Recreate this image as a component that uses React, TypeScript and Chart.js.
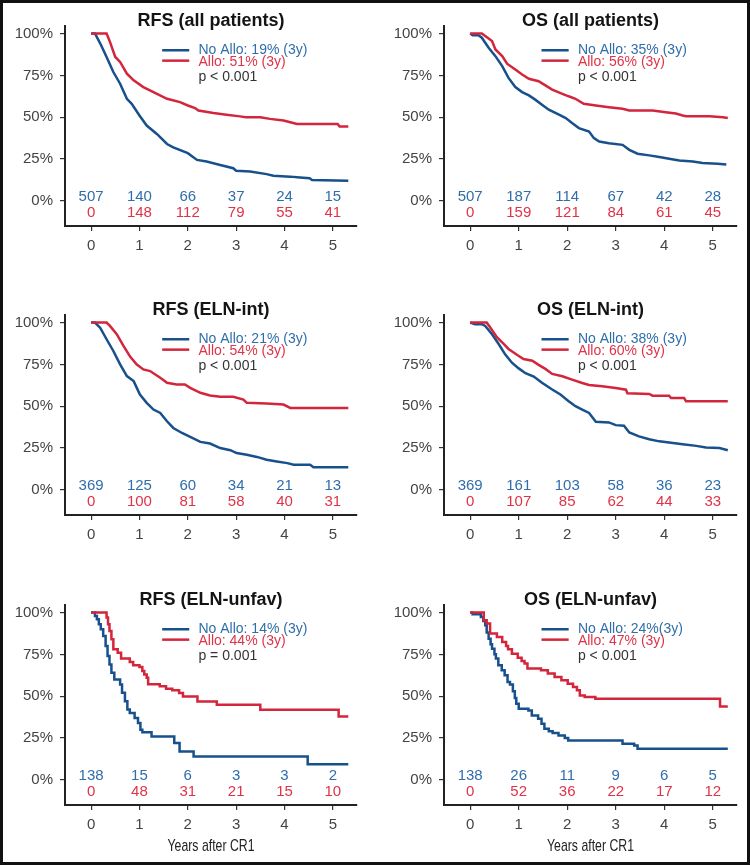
import React, { useEffect, useRef } from "react";
import { Chart, registerables } from "chart.js";

Chart.register(...registerables);

type Pt = [number, number];

// ---------- tick labels ----------
const yearTicks = [0, 1, 2, 3, 4, 5];
const percentTicks = [0, 25, 50, 75, 100];
const xAxisTitle = "Years after CR1";

// ---------- panel titles & legend texts ----------
const titles = [
  "RFS (all patients)",
  "OS (all patients)",
  "RFS (ELN-int)",
  "OS (ELN-int)",
  "RFS (ELN-unfav)",
  "OS (ELN-unfav)",
];
const noAlloLabels = [
  "No Allo: 19% (3y)",
  "No Allo: 35% (3y)",
  "No Allo: 21% (3y)",
  "No Allo: 38% (3y)",
  "No Allo: 14% (3y)",
  "No Allo: 24%(3y)",
];
const alloLabels = [
  "Allo: 51% (3y)",
  "Allo: 56% (3y)",
  "Allo: 54% (3y)",
  "Allo: 60% (3y)",
  "Allo: 44% (3y)",
  "Allo: 47% (3y)",
];
const pLabels = ["p < 0.001", "p < 0.001", "p < 0.001", "p < 0.001", "p = 0.001", "p < 0.001"];

// ---------- numbers at risk ----------
const riskNoAllo = [
  [507, 140, 66, 37, 24, 15],
  [507, 187, 114, 67, 42, 28],
  [369, 125, 60, 34, 21, 13],
  [369, 161, 103, 58, 36, 23],
  [138, 15, 6, 3, 3, 2],
  [138, 26, 11, 9, 6, 5],
];
const riskAllo = [
  [0, 148, 112, 79, 55, 41],
  [0, 159, 121, 84, 61, 45],
  [0, 100, 81, 58, 40, 31],
  [0, 107, 85, 62, 44, 33],
  [0, 48, 31, 21, 15, 10],
  [0, 52, 36, 22, 17, 12],
];

// ---------- survival curves (years, %) ----------
const rfsAllNoAllo: Pt[] = [
  [0, 100], [0.08, 100], [0.19, 94], [0.32, 86], [0.46, 77], [0.6, 70], [0.74, 61], [0.84, 58],
  [1.0, 51], [1.15, 45], [1.36, 40], [1.57, 34], [1.7, 32], [2.0, 28.5], [2.19, 24.5], [2.39, 23.5],
  [2.67, 21.5], [2.94, 19.5], [3.0, 18], [3.29, 17.5], [3.63, 16], [3.77, 15], [4.12, 14.5],
  [4.32, 14], [4.52, 13.5], [4.57, 12.5], [5.32, 12],
];
const rfsAllAllo: Pt[] = [
  [0, 100], [0.32, 100], [0.39, 95], [0.5, 86], [0.6, 83], [0.74, 76], [0.88, 72], [1.08, 68],
  [1.29, 65], [1.57, 61], [1.84, 59], [2.0, 57], [2.15, 55.5], [2.22, 54], [2.53, 52.5], [2.8, 51.5],
  [3.08, 50.5], [3.2, 50], [3.5, 50], [3.7, 49], [3.98, 48], [4.12, 47], [4.26, 46], [5.1, 46],
  [5.14, 44.5], [5.32, 44.5],
];
const osAllNoAllo: Pt[] = [
  [0, 100], [0.05, 99], [0.17, 99], [0.24, 97.5], [0.38, 91.5], [0.52, 86.5], [0.66, 80.5],
  [0.79, 73.5], [0.93, 68], [1.07, 65], [1.21, 63], [1.34, 60.5], [1.48, 57.5], [1.62, 54.5],
  [1.83, 51.5], [1.97, 49.5], [2.1, 46.5], [2.24, 43.5], [2.45, 41.5], [2.55, 37.5], [2.66, 35.5],
  [2.86, 34.5], [3.14, 33.5], [3.28, 30.5], [3.45, 28.2], [3.69, 27.2], [3.9, 26.2], [4.1, 25.2],
  [4.31, 24.2], [4.59, 23.6], [4.79, 22.6], [5.1, 22.2], [5.28, 21.8],
];
const osAllAllo: Pt[] = [
  [0, 100], [0.24, 100], [0.31, 98.5], [0.45, 95.5], [0.52, 90.5], [0.66, 86.5], [0.76, 82],
  [0.93, 78.5], [1.07, 75.5], [1.21, 73], [1.41, 71.5], [1.55, 69], [1.69, 66.5], [1.9, 64],
  [2.03, 62.5], [2.17, 61], [2.34, 58], [2.59, 57], [2.86, 56], [3.14, 55], [3.28, 54], [3.76, 54],
  [4.03, 53], [4.24, 52.2], [4.38, 51], [4.45, 50.6], [4.93, 50.6], [5.21, 50], [5.31, 49.5],
];
const rfsIntNoAllo: Pt[] = [
  [0, 100], [0.08, 100], [0.19, 96.8], [0.32, 90], [0.46, 83], [0.6, 75], [0.74, 68], [0.88, 65],
  [1.01, 57], [1.15, 52], [1.29, 48], [1.43, 46], [1.57, 41], [1.7, 37], [1.88, 34], [2.05, 31.7],
  [2.26, 28.7], [2.46, 27.7], [2.67, 25], [2.88, 23.7], [3.01, 22], [3.22, 21], [3.43, 19.7],
  [3.63, 18], [3.84, 17], [4.06, 16], [4.19, 15], [4.53, 15], [4.6, 13.5], [5.32, 13.5],
];
const rfsIntAllo: Pt[] = [
  [0, 100], [0.32, 100], [0.39, 98], [0.53, 93], [0.67, 86], [0.81, 79.5], [0.94, 75], [1.08, 72],
  [1.22, 71], [1.43, 67], [1.57, 64], [1.77, 63], [1.94, 63], [2.05, 61], [2.26, 58], [2.46, 56.4],
  [2.67, 55.6], [2.94, 55.6], [3.15, 54], [3.22, 52], [3.63, 51.6], [3.98, 51], [4.12, 49], [5.32, 49],
];
const osIntNoAllo: Pt[] = [
  [0, 100], [0.1, 99], [0.24, 99], [0.31, 98], [0.45, 93], [0.59, 87], [0.72, 81], [0.86, 76],
  [1.0, 72.6], [1.14, 69.7], [1.31, 67.7], [1.48, 64], [1.69, 60], [1.86, 57], [2.03, 53],
  [2.17, 50], [2.31, 48], [2.45, 46], [2.59, 40.7], [2.86, 40.3], [3.0, 38.7], [3.17, 38.3],
  [3.28, 34.3], [3.48, 32], [3.69, 30.3], [3.9, 29], [4.1, 28.3], [4.38, 27.3], [4.66, 26.3],
  [4.86, 25.3], [5.14, 25], [5.31, 23.7],
];
const osIntAllo: Pt[] = [
  [0, 100], [0.34, 100], [0.41, 97.2], [0.55, 91.2], [0.69, 87.2], [0.79, 84.2], [0.97, 80.6],
  [1.1, 78.2], [1.28, 77.2], [1.41, 74.7], [1.55, 72.3], [1.69, 69.3], [1.9, 67.9], [2.1, 65.9],
  [2.31, 63.9], [2.45, 62.7], [2.72, 61.9], [3.0, 60.9], [3.21, 59.9], [3.24, 57.7], [3.69, 57.3],
  [3.76, 56.3], [4.1, 56.3], [4.14, 54.9], [4.41, 54.9], [4.45, 52.9], [5.31, 52.9],
];
// step curves: each point = (event time, value after the event)
const rfsUnfavNoAllo: Pt[] = [
  [0, 100], [0.08, 98], [0.12, 96], [0.16, 93], [0.2, 90], [0.25, 86], [0.3, 80], [0.34, 74],
  [0.38, 69], [0.42, 64], [0.48, 60], [0.6, 57], [0.64, 52], [0.7, 47], [0.75, 42], [0.8, 40],
  [0.9, 37], [0.97, 34], [1.02, 30], [1.06, 28.5], [1.25, 26], [1.72, 22], [1.83, 17], [2.12, 14],
  [4.48, 9.4], [5.32, 9.4],
];
const rfsUnfavAllo: Pt[] = [
  [0, 100], [0.32, 97], [0.35, 93], [0.38, 89], [0.42, 84], [0.46, 78], [0.55, 76], [0.62, 72.5],
  [0.8, 70.5], [0.87, 68.5], [1.0, 67.5], [1.06, 65], [1.1, 63], [1.15, 61], [1.18, 57.1],
  [1.42, 55.9], [1.55, 54.5], [1.68, 53.5], [1.82, 51.9], [1.9, 49.9], [2.2, 46.9], [2.6, 44.9],
  [3.5, 41.9], [5.12, 37.9], [5.32, 37.9],
];
const osUnfavNoAllo: Pt[] = [
  [0, 100], [0.05, 99], [0.22, 97.4], [0.27, 95], [0.31, 92.4], [0.34, 88], [0.38, 84.4],
  [0.42, 81], [0.45, 78.4], [0.5, 75], [0.53, 72.5], [0.58, 68.5], [0.65, 65.5], [0.71, 62.5],
  [0.77, 58.5], [0.82, 57], [0.88, 53], [0.92, 49], [0.95, 45.5], [1.0, 42.5], [1.2, 41.5],
  [1.27, 38.5], [1.4, 36.5], [1.47, 33.5], [1.53, 30.5], [1.62, 29], [1.7, 28], [1.82, 26.5],
  [1.95, 25], [2.02, 23.6], [3.14, 21.6], [3.38, 20.6], [3.45, 18.6], [5.31, 18.6],
];
const osUnfavAllo: Pt[] = [
  [0, 100], [0.28, 95.4], [0.34, 93.4], [0.41, 87.4], [0.55, 85.4], [0.66, 82.4], [0.74, 80],
  [0.78, 78], [0.86, 75.4], [0.98, 73], [1.06, 71], [1.12, 69.5], [1.18, 66.5], [1.46, 65.5],
  [1.6, 63.5], [1.74, 61.5], [1.88, 59.5], [2.01, 57.5], [2.12, 55.5], [2.2, 53.5], [2.26, 50.5],
  [2.36, 49.5], [2.58, 48.5], [5.15, 43.9], [5.31, 43.9],
];

const noAlloCurves = [rfsAllNoAllo, osAllNoAllo, rfsIntNoAllo, osIntNoAllo, rfsUnfavNoAllo, osUnfavNoAllo];
const alloCurves = [rfsAllAllo, osAllAllo, rfsIntAllo, osIntAllo, rfsUnfavAllo, osUnfavAllo];
const steppedPanels = [false, false, false, false, true, true];

// ---------- styles ----------
const FONT = "'Liberation Sans', Arial, Helvetica, sans-serif";
const LINE_BLUE = "#17508b";
const LINE_RED = "#d3253b";
const TEXT_BLUE = "#2f6eab";
const TEXT_RED = "#df3349";
const TICK_COLOR = "#444444";
const AXIS_COLOR = "#222222";

const ROW_TOPS = [26, 315, 605];
const COL_LEFT = [0, 375];
const CANVAS_W = 375;
const CANVAS_H = 286;

function Panel({ index }: { index: number }) {
  const ref = useRef<HTMLCanvasElement>(null);
  const col = index % 2;
  const row = Math.floor(index / 2);

  useEffect(() => {
    const canvas = ref.current;
    if (!canvas) return;
    const padLeft = col === 0 ? 15 : 19;
    const padRight = col === 0 ? 18 : 13;
    // "before": horizontal to the event time, then vertical drop (Kaplan-Meier style)
    const stepped = steppedPanels[index] ? "before" : false;

    const overlay = {
      id: "kmOverlay" + index,
      afterDraw(chart: any) {
        const { ctx, chartArea } = chart;
        const x = chart.scales.x;
        const y = chart.scales.y;
        const cx = (chartArea.left + chartArea.right) / 2;
        ctx.save();
        ctx.textBaseline = "middle";

        // title
        ctx.font = `bold 18px ${FONT}`;
        ctx.fillStyle = "#141414";
        ctx.textAlign = "center";
        ctx.fillText(titles[index], cx, chartArea.top - 5);

        // legend
        const lx0 = x.getPixelForValue(1.47);
        const lx1 = x.getPixelForValue(2.03);
        const tx = x.getPixelForValue(2.22);
        const yb = y.getPixelForValue(90);
        const yr = y.getPixelForValue(83.8);
        const yp = y.getPixelForValue(73.8);
        ctx.lineWidth = 2.5;
        ctx.strokeStyle = LINE_BLUE;
        ctx.beginPath();
        ctx.moveTo(lx0, yb);
        ctx.lineTo(lx1, yb);
        ctx.stroke();
        ctx.strokeStyle = LINE_RED;
        ctx.beginPath();
        ctx.moveTo(lx0, yr);
        ctx.lineTo(lx1, yr);
        ctx.stroke();
        ctx.font = `14px ${FONT}`;
        ctx.textAlign = "left";
        ctx.fillStyle = TEXT_BLUE;
        ctx.fillText(noAlloLabels[index], tx, yb);
        ctx.fillStyle = TEXT_RED;
        ctx.fillText(alloLabels[index], tx, yr + 1);
        ctx.fillStyle = "#333333";
        ctx.fillText(pLabels[index], tx, yp);

        // numbers at risk
        ctx.font = `15px ${FONT}`;
        ctx.textAlign = "center";
        yearTicks.forEach((t, i) => {
          const px = x.getPixelForValue(t);
          ctx.fillStyle = TEXT_BLUE;
          ctx.fillText(String(riskNoAllo[index][i]), px, y.getPixelForValue(2.2));
          ctx.fillStyle = TEXT_RED;
          ctx.fillText(String(riskAllo[index][i]), px, y.getPixelForValue(-7.3));
        });

        // x axis title on bottom row
        if (row === 2) {
          ctx.font = `17px 'Liberation Sans Narrow', ${FONT}`;
          ctx.fillStyle = "#222222";
          ctx.fillText(xAxisTitle, cx, chartArea.bottom + 41, 87);
        }
        ctx.restore();
      },
    };

    const chart = new Chart(canvas, {
      type: "line",
      data: {
        datasets: [
          {
            label: "Allo",
            data: alloCurves[index].map(([t, s]) => ({ x: t, y: s })),
            borderColor: LINE_RED,
            borderWidth: 2.5,
            pointRadius: 0,
            tension: 0,
            stepped: stepped as any,
            fill: false,
          },
          {
            label: "No Allo",
            data: noAlloCurves[index].map(([t, s]) => ({ x: t, y: s })),
            borderColor: LINE_BLUE,
            borderWidth: 2.5,
            pointRadius: 0,
            tension: 0,
            stepped: stepped as any,
            fill: false,
          },
        ],
      },
      options: {
        responsive: false,
        animation: false,
        devicePixelRatio: 1,
        layout: { padding: { left: padLeft, right: padRight, top: 26, bottom: 20 } },
        plugins: {
          legend: { display: false },
          tooltip: { enabled: false },
          title: { display: false },
        },
        scales: {
          x: {
            type: "linear",
            min: -0.54,
            max: 5.5,
            afterBuildTicks: (s: any) => {
              s.ticks = yearTicks.map((v) => ({ value: v }));
            },
            afterFit: (s: any) => {
              s.height = 40;
            },
            grid: {
              display: true,
              drawOnChartArea: false,
              drawTicks: true,
              tickLength: 5,
              color: "#333333",
              lineWidth: 1.2,
            },
            border: { display: true, color: AXIS_COLOR, width: 2 },
            ticks: {
              padding: 6,
              color: TICK_COLOR,
              font: { family: FONT, size: 15 },
              maxRotation: 0,
              autoSkip: false,
              callback: (v: any) => String(v),
            },
          },
          y: {
            type: "linear",
            min: -15,
            max: 104.5,
            afterBuildTicks: (s: any) => {
              s.ticks = percentTicks.map((v) => ({ value: v }));
            },
            afterFit: (s: any) => {
              s.width = 50;
            },
            grid: {
              display: true,
              drawOnChartArea: false,
              drawTicks: true,
              tickLength: 5,
              color: "#333333",
              lineWidth: 1.2,
            },
            border: { display: true, color: AXIS_COLOR, width: 2 },
            ticks: {
              padding: 7,
              color: TICK_COLOR,
              font: { family: FONT, size: 15 },
              autoSkip: false,
              callback: (v: any) => `${v}%`,
            },
          },
        },
      } as any,
      plugins: [overlay],
    });
    return () => chart.destroy();
  }, [index]);

  return (
    <canvas
      ref={ref}
      width={CANVAS_W}
      height={CANVAS_H}
      style={{
        position: "absolute",
        left: COL_LEFT[col],
        top: ROW_TOPS[row] - 26,
        width: CANVAS_W,
        height: CANVAS_H,
      }}
    />
  );
}

export default function App() {
  return (
    <div
      style={{
        position: "absolute",
        left: 0,
        top: 0,
        width: 750,
        height: 865,
        background: "#ffffff",
        overflow: "hidden",
      }}
    >
      {titles.map((_, i) => (
        <Panel key={i} index={i} />
      ))}
      <div
        style={{
          position: "absolute",
          left: 0,
          top: 0,
          width: 750,
          height: 865,
          boxSizing: "border-box",
          border: "3px solid #111111",
          pointerEvents: "none",
        }}
      />
    </div>
  );
}
